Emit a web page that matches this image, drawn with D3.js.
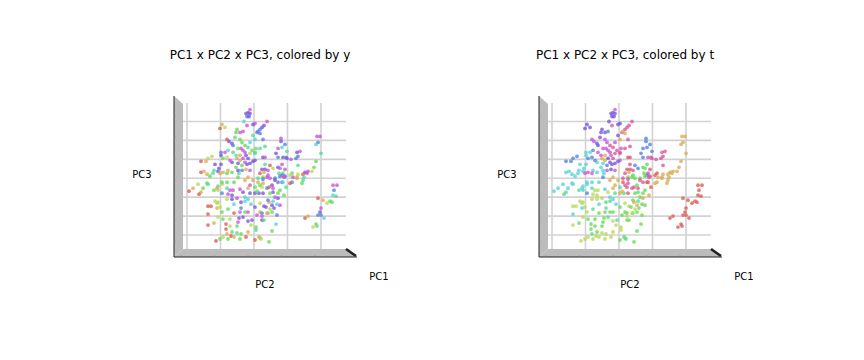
<!DOCTYPE html>
<html>
<head>
<meta charset="utf-8">
<script src="https://cdn.jsdelivr.net/npm/d3@7"></script>
<style>
  html, body { margin: 0; background: #fff; }
  text { font-family: "DejaVu Sans", sans-serif; fill: #000; }
</style>
</head>
<body>
<svg id="chart" width="864" height="360"></svg>
<script>
// values, same order in all four lists
const pc2 = [
  -4,-8,-6,-7,-5,-4,-10,-7,1,-1,-32,-29,-34,-17,-18,-14,-11,-19,-27,-25,-22,-21,-14,-12,-9,-4,-1,3,
  13,10,8,6,4,6,1,9,11,6,2,9,11,11,1,1,
  63,66,64,62,67,46,43,44,42,33,31,28,27,27,24,22,24,29,32,33,37,44,28,24,26,16,14,11,8,19,
  62,60,58,54,51,49,53,44,38,36,39,43,50,31,29,28,25,31,30,6,10,14,9,13,21,4,
  -53,-48,-46,-42,-33,-29,-33,-31,-27,-33,-39,-35,-40,-53,-50,-47,-44,-41,-36,-34,-31,-26,-27,-22,-22,-16,-18,-12,-12,-15,
  -9,-17,-14,-13,-21,-26,-9,-4,1,-6,-1,-4,-7,-11,-8,-6,
  -65,-61,-56,-51,-53,-55,-47,-46,-40,-36,-36,-37,-32,-27,-32,-27,-32,-20,-16,-24,-21,-14,-6,-26,-22,-27,-22,-17,-9,-6,
  -4,1,5,9,-1,4,1,3,8,9,-39,-36,-37,-46,-43,-37,-34,-26,-32,-20,-13,-9,-3,1,6,10,-13,-9,-14,-20,
  -6,-11,-15,-24,-31,-36,-46,-46,-40,-28,-24,-17,-16,-28,-22,-17,-13,-27,-23,-20,-31,-34,-38,-26,-14,-8,-6,1,6,2,
  -6,-3,-2,3,8,10,6,
  79,83,80,79,82,76,78,73,64,69,67,66,64,67,70,54,51,62,63,59,
  49,48,43,38,36,32,30,26,24,19,16,21,24,19,15,26,23,20,18,12,16,18,14,13,8,23,8,22,18,5,7,15,2,
  9,21,28,29,24,13,19,15,
  -16,-18,-11,-6,-2,-24,-14,-8,-16,-4,16,18,14,-4,-9,-11,6,26
];
const pc3 = [
  69,65,66,62,62,65,57,53,55,54,54,51,50,49,46,46,47,41,39,37,35,33,39,36,33,36,43,46,
  57,53,51,49,47,45,39,39,32,30,30,21,21,14,25,18,
  42,42,36,34,25,27,26,22,20,27,34,31,40,37,30,25,21,21,21,20,19,13,14,11,10,13,8,9,9,10,
  17,11,7,7,6,4,5,4,5,3,1,1,1,9,5,3,5,2,1,5,6,3,1,1,0,0,
  17,17,20,22,26,26,23,20,21,14,14,10,8,6,7,4,2,5,7,5,6,8,5,6,16,15,11,13,8,5,
  16,20,23,30,26,28,26,25,26,20,17,15,14,20,9,1,
  -13,-10,-6,-10,-14,-16,-5,-6,-12,-8,-12,-10,-6,-10,-15,-4,-4,-4,1,-12,-12,-11,-10,-16,-17,-21,-21,-20,-19,-21,
  -15,-15,-15,-15,-2,-4,-9,-13,-9,-5,-23,-24,-25,-28,-28,-30,-29,-31,-34,-26,-24,-23,-26,-29,-25,-28,-30,-34,-34,-35,
  -34,-39,-40,-41,-41,-39,-36,-47,-45,-46,-48,-48,-44,-51,-54,-55,-56,-56,-58,-59,-59,-61,-63,-61,-61,-59,-54,-62,-60,-49,
  -43,-47,-42,-37,-42,-42,-34,
  -7,-7,-12,-17,-18,-23,-24,-25,-20,-22,-30,-34,-37,-37,-40,-38,-40,-46,-48,-49,
  -2,-5,0,-4,-5,-9,-17,-12,-15,-14,-15,-19,-20,-23,-24,-27,-26,-30,-27,-29,-31,-34,-35,-35,-35,-37,-38,-46,-53,-59,-61,-64,-52,
  -1,-2,-4,-4,-4,-10,-10,-9,
  30,23,28,31,28,18,18,23,8,8,0,-7,-22,-7,-2,-14,-7,2
];
const labelY = [
  8,7,7,6,7,7,5,8,8,7,1,2,0,3,3,8,8,4,0,7,7,6,3,3,3,5,4,6,
  8,7,7,6,6,6,5,6,4,4,3,7,8,4,4,7,
  8,8,6,5,4,8,7,6,6,4,6,5,8,7,8,7,6,7,6,7,8,4,8,7,8,0,8,7,7,2,
  3,3,2,8,7,0,8,2,3,2,8,1,4,8,4,6,4,7,8,0,1,8,3,8,6,4,
  0,1,2,2,6,8,7,3,2,7,7,7,5,0,1,1,3,4,7,1,1,1,3,3,7,7,3,3,6,4,
  8,1,1,8,3,5,8,2,4,7,7,7,7,8,1,1,
  0,1,2,3,1,0,3,4,3,4,2,1,2,4,6,3,3,3,3,8,8,8,1,8,7,2,7,8,5,5,
  7,7,7,7,1,1,3,3,2,1,2,2,2,0,0,1,2,3,3,5,7,5,5,7,2,7,6,3,8,0,
  8,7,7,2,3,2,0,0,1,0,2,3,8,0,3,4,3,1,0,1,2,3,0,3,3,0,1,0,3,3,
  7,2,7,8,7,4,1,
  8,8,6,5,4,3,3,2,0,1,8,7,6,6,5,1,0,3,4,2,
  4,3,1,6,0,4,3,3,3,7,3,8,7,5,1,8,5,7,7,7,2,3,3,1,6,6,8,5,3,1,2,3,4,
  6,7,6,5,6,6,8,0,
  3,5,8,4,3,8,1,7,7,8,8,7,6,8,1,7,3,6
];
const labelT = [
  8,7,7,7,7,7,7,9,7,7,7,7,7,7,7,7,6,7,8,8,7,7,8,8,9,8,7,8,
  9,9,9,9,1,1,1,9,9,9,8,0,9,9,9,8,
  1,1,1,1,1,9,9,9,9,6,6,6,6,6,6,6,6,8,9,9,9,9,3,3,3,6,9,0,0,6,
  1,1,1,1,1,1,1,1,0,0,1,1,1,9,9,6,3,9,9,9,1,3,3,3,3,9,
  6,6,6,6,5,5,5,6,6,5,5,5,5,5,5,5,5,5,5,8,8,5,8,5,5,5,5,6,8,5,
  7,1,1,8,8,6,8,9,9,9,7,7,7,7,7,1,
  5,5,5,5,4,4,5,5,4,5,5,5,5,5,6,5,5,5,6,2,2,5,1,2,2,2,2,2,5,5,
  4,1,4,0,1,0,4,1,9,9,2,2,2,2,2,5,2,4,2,5,4,4,5,3,2,2,4,3,3,3,
  3,4,3,3,3,2,5,2,3,3,3,3,3,3,3,2,2,4,2,2,2,2,2,2,2,2,2,3,2,2,
  2,2,4,3,3,3,3,
  0,0,0,0,0,0,0,0,0,0,0,0,0,0,0,0,0,0,0,0,
  1,1,1,1,1,0,1,3,3,3,3,3,1,4,1,3,3,3,1,3,2,3,3,2,3,3,2,3,3,4,4,3,2,
  9,9,0,0,9,9,9,9,
  8,8,8,9,9,6,1,8,5,9,3,3,3,1,1,2,9,3
];

const palette = ['#db5f57','#dbae57','#b9db57','#69db57','#57db94','#57d3db','#5784db','#7957db','#c957db','#db579e'];
const pc2Ticks = [-67, -33.5, 0, 33.5, 67];
const pc3Ticks = [-57, -38, -19, 0, 19, 38, 57];
const titles = ['PC1 x PC2 x PC3, colored by y', 'PC1 x PC2 x PC3, colored by t'];
const paneGray = '#bcbcbc';

const svg = d3.select('#chart');

function drawPanel(offsetX, title, labels) {
  const g = svg.append('g').attr('transform', `translate(${offsetX},0)`);

  let x = d3.scaleLinear().domain([-67, 67]).range([187, 321]);
  let y = d3.scaleLinear().domain([-57, 57]).range([235, 121.5]);

  // back panes
  g.append('path').attr('d', 'M174,96L183,104V249L174,257Z').attr('fill', paneGray);
  g.append('path').attr('d', 'M174,257L183,249H346L356,257Z').attr('fill', paneGray);

  // grid
  g.selectAll('.gx').data(pc2Ticks).join('line')
    .attr('x1', d => x(d)).attr('x2', d => x(d))
    .attr('y1', 103).attr('y2', 249)
    .attr('stroke', (d, i) => i === 4 ? '#b4b4b4' : '#d2d2d2')
    .attr('stroke-width', (d, i) => i === 4 ? 1 : 1.6);
  g.selectAll('.gy').data(pc3Ticks).join('line')
    .attr('x1', 183).attr('x2', 346)
    .attr('y1', d => y(d)).attr('y2', d => y(d))
    .attr('stroke', '#d2d2d2')
    .attr('stroke-width', 1.6);

  // spines and the squashed PC1 axis
  g.append('path').attr('d', 'M174,96V257H357').attr('fill', 'none').attr('stroke', '#222').attr('stroke-width', 1);
  g.append('path').attr('d', 'M346,249L356,256').attr('fill', 'none').attr('stroke', '#222').attr('stroke-width', 2.6);

  // small tick marks on the spines
  g.selectAll('.tl').data(d3.range(7)).join('line')
    .attr('x1', 174).attr('x2', 176)
    .attr('y1', d => 116 + d * 21).attr('y2', d => 116 + d * 21)
    .attr('stroke', '#8a8a8a').attr('stroke-width', 0.6);
  g.selectAll('.tb').data(pc2Ticks).join('line')
    .attr('x1', d => x(d) - 6).attr('x2', d => x(d) - 6)
    .attr('y1', 255).attr('y2', 257)
    .attr('stroke', '#8a8a8a').attr('stroke-width', 0.6);

  // points
  g.selectAll('circle').data(pc2).join('circle')
    .attr('cx', d => x(d))
    .attr('cy', (d, i) => y(pc3[i]))
    .attr('r', 1.9)
    .attr('fill', (d, i) => palette[labels[i]])
    .attr('fill-opacity', 0.8);

  g.append('text').attr('x', 260).attr('y', 59).attr('text-anchor', 'middle')
    .attr('font-size', 12).text(title);
  g.append('text').attr('x', 142).attr('y', 178).attr('text-anchor', 'middle')
    .attr('font-size', 10).text('PC3');
  g.append('text').attr('x', 265).attr('y', 288).attr('text-anchor', 'middle')
    .attr('font-size', 10).text('PC2');
  g.append('text').attr('x', 379).attr('y', 280).attr('text-anchor', 'middle')
    .attr('font-size', 10).text('PC1');
}

drawPanel(0, titles[0], labelY);
drawPanel(365, titles[1], labelT);
</script>
</body>
</html>
